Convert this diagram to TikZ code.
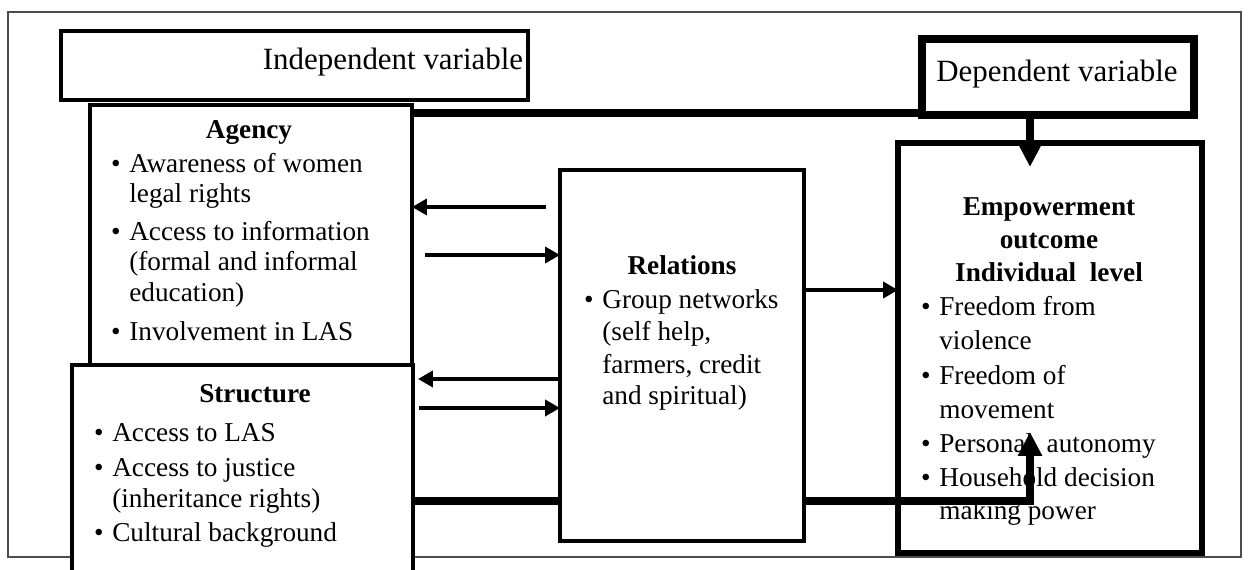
\documentclass[tikz,border=0pt]{standalone}
\usepackage{fontspec}
\setmainfont{Liberation Serif}
\usetikzlibrary{arrows.meta}

\tikzset{
  box/.style={draw, line width=2.3pt, fill=white, inner sep=0pt, outer sep=0pt},
  txt/.style={anchor=base west, inner sep=0pt, font=\fontsize{15.5}{18}\selectfont},
  ttl/.style={anchor=base, inner sep=0pt, font=\fontsize{15.5}{18}\selectfont\bfseries},
  lbl/.style={anchor=base, inner sep=0pt, font=\fontsize{17.6}{20}\selectfont},
  arr/.style={line width=2.2pt, -{Triangle[width=0.32cm,length=0.3cm]}},
  thickln/.style={line width=4pt},
  bigarr/.style={line width=4pt, -{Triangle[width=0.46cm,length=0.48cm]}}
}
\newcommand\bul{\llap{\textbullet\hspace{5pt}}}

\begin{document}
\begin{tikzpicture}[x=0.02cm, y=-0.02cm]
  \useasboundingbox (0,0) rectangle (1251,570);
  % outer frame
  \draw[gray!60!black, line width=0.6pt] (8,12) rectangle (1241,557);

  % boxes
  \node[box, minimum width=9.34cm, minimum height=1.38cm] (indep) at (294.5,65.5) {};
  \node[box, minimum width=6.44cm, minimum height=5.2cm] (agency) at (251,235) {};
  \node[box, minimum width=6.82cm, minimum height=4.7cm] (struct) at (242.5,482.5) {};
  \node[box, minimum width=4.88cm, minimum height=7.42cm] (rel) at (682,355.5) {};
  \node[box, line width=3.4pt, minimum width=6.08cm, minimum height=8.2cm] (emp) at (1050,348) {};
  \node[box, line width=4.5pt, minimum width=5.44cm, minimum height=1.52cm] (dep) at (1058,77) {};

  \node[lbl] (indep-t) at (393,70) {Independent variable};
  \node[lbl] (dep-t) at (1057,82) {Dependent variable};

  % agency
  \node[ttl] (agency-t) at (249,139) {Agency};
  \foreach \yy/\tx [count=\i] in {173/{\bul Awareness of women}, 203/{legal rights},
      241/{\bul Access to information}, 271/{(formal and informal}, 302/{education)},
      341/{\bul Involvement in LAS}}
    \node[txt] (ag-\i) at (129,\yy) {\tx};

  % structure
  \node[ttl] (struct-t) at (255,403) {Structure};
  \foreach \yy/\tx [count=\i] in {442/{\bul Access to LAS}, 477/{\bul Access to justice},
      508/{(inheritance rights)}, 541/{\bul Cultural background}}
    \node[txt] (st-\i) at (112,\yy) {\tx};

  % relations
  \node[ttl] (rel-t) at (682,275) {Relations};
  \foreach \yy/\tx [count=\i] in {309/{\bul Group networks}, 341/{(self help,},
      374/{farmers, credit}, 405/{and spiritual)}}
    \node[txt] (re-\i) at (602,\yy) {\tx};

  % empowerment
  \foreach \yy/\tx [count=\i] in {216/Empowerment, 249/outcome, 282/{Individual\ \ level}}
    \node[ttl] (emp-t\i) at (1049,\yy) {\tx};
  \foreach \yy/\tx [count=\i] in {316/{\bul Freedom from}, 350/{violence},
      385/{\bul Freedom of}, 419/{movement}, 453/{\bul Personal\ \ autonomy},
      487/{\bul Household decision}, 520/{making power}}
    \node[txt] (em-\i) at (939,\yy) {\tx};

  % connectors
  \coordinate (yTop) at (0,113);
  \coordinate (yLow) at (0,501);
  \coordinate (tipA) at (1030,167);
  \coordinate (tipB) at (1030,432);
  \coordinate (y1) at (0,207);
  \coordinate (y2) at (0,255);
  \coordinate (y3) at (0,290);
  \coordinate (y4) at (0,379);
  \coordinate (y5) at (0,408);

  \draw[thickln] (agency.east |- yTop) -- (dep.west |- yTop);
  \draw[bigarr] (tipA |- dep.south) -- (tipA);

  \draw[arr, shorten <=0.28cm] (rel.west |- y1) -- (agency.east |- y1);
  \draw[arr, shorten <=0.26cm] (agency.east |- y2) -- (rel.west |- y2);
  \draw[arr] (rel.east |- y3) -- (emp.west |- y3);
  \draw[arr, shorten >=0.1cm] (rel.west |- y4) -- (struct.east |- y4);
  \draw[arr, shorten <=0.12cm] (struct.east |- y5) -- (rel.west |- y5);

  \draw[thickln] (struct.east |- yLow) -- (rel.west |- yLow);
  \draw[bigarr] (rel.east |- yLow) -| (tipB);
\end{tikzpicture}
\end{document}
